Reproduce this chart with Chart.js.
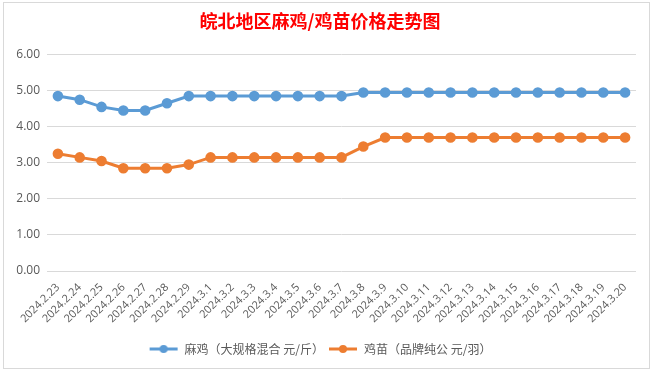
<!DOCTYPE html>
<html>
<head>
<meta charset="utf-8">
<script src="https://cdn.jsdelivr.net/npm/chart.js@4/dist/chart.umd.min.js"></script>
<style>
    html, body { margin: 0; padding: 0; background: #fff; }
    .frame {
        position: absolute; left: 3px; top: 2px;
        width: 645px; height: 365px;
        border: 1px solid #d9d9d9;
    }
    canvas { display: block; }
</style>
</head>
<body>
<div class="frame"><canvas id="priceChart" width="645" height="365"></canvas></div>
<script>
const dates = [
    '2024.2.23', '2024.2.24', '2024.2.25', '2024.2.26', '2024.2.27', '2024.2.28', '2024.2.29',
    '2024.3.1', '2024.3.2', '2024.3.3', '2024.3.4', '2024.3.5', '2024.3.6', '2024.3.7',
    '2024.3.8', '2024.3.9', '2024.3.10', '2024.3.11', '2024.3.12', '2024.3.13', '2024.3.14',
    '2024.3.15', '2024.3.16', '2024.3.17', '2024.3.18', '2024.3.19', '2024.3.20'
];
const maji = [
    4.85, 4.75, 4.55, 4.45, 4.45, 4.65, 4.85,
    4.85, 4.85, 4.85, 4.85, 4.85, 4.85, 4.85,
    4.95, 4.95, 4.95, 4.95, 4.95, 4.95, 4.95,
    4.95, 4.95, 4.95, 4.95, 4.95, 4.95
];
const jimiao = [
    3.25, 3.15, 3.05, 2.85, 2.85, 2.85, 2.95,
    3.15, 3.15, 3.15, 3.15, 3.15, 3.15, 3.15,
    3.45, 3.70, 3.70, 3.70, 3.70, 3.70, 3.70,
    3.70, 3.70, 3.70, 3.70, 3.70, 3.70
];
const seriesNames = ['麻鸡（大规格混合 元/斤）', '鸡苗（品牌纯公 元/羽）'];
const yTicks = [0, 1, 2, 3, 4, 5, 6];

const BLUE = '#5b9bd5';
const ORANGE = '#ed7d31';

// legend marker: short line with a dot in the middle
function legendMarker(color) {
    const c = document.createElement('canvas');
    c.width = 30; c.height = 10;
    const g = c.getContext('2d');
    g.strokeStyle = color;
    g.lineWidth = 3;
    g.beginPath(); g.moveTo(1, 5); g.lineTo(29, 5); g.stroke();
    g.fillStyle = color;
    g.beginPath(); g.arc(15, 5, 4, 0, Math.PI * 2); g.fill();
    return c;
}

const canvas = document.getElementById('priceChart');
new Chart(canvas.getContext('2d'), {
    type: 'line',
    data: {
        labels: dates,
        datasets: [
            {
                label: seriesNames[0], data: maji,
                borderColor: BLUE, backgroundColor: BLUE,
                borderWidth: 3, pointRadius: 3.8, pointHoverRadius: 4,
                marker: legendMarker(BLUE)
            },
            {
                label: seriesNames[1], data: jimiao,
                borderColor: ORANGE, backgroundColor: ORANGE,
                borderWidth: 3, pointRadius: 3.8, pointHoverRadius: 4,
                marker: legendMarker(ORANGE)
            }
        ]
    },
    options: {
        responsive: false,
        animation: false,
        layout: { padding: { left: 0, right: 13, top: 0, bottom: 3 } },
        plugins: {
            title: {
                display: true,
                text: '皖北地区麻鸡/鸡苗价格走势图',
                color: '#ff0000',
                font: { family: '"Noto Sans CJK SC"', size: 18, weight: 'bold' },
                padding: { top: 7, bottom: 23 }
            },
            legend: {
                position: 'bottom',
                labels: {
                    color: '#595959',
                    font: { family: '"Noto Sans CJK SC"', size: 12 },
                    usePointStyle: true,
                    pointStyleWidth: 30,
                    padding: 4,
                    generateLabels(chart) {
                        return chart.data.datasets.map((ds, i) => ({
                            text: ds.label,
                            fontColor: '#595959',
                            pointStyle: ds.marker,
                            strokeStyle: ds.borderColor,
                            fillStyle: ds.borderColor,
                            lineWidth: 0,
                            hidden: !chart.isDatasetVisible(i),
                            datasetIndex: i
                        }));
                    }
                }
            },
            tooltip: { enabled: false }
        },
        scales: {
            x: {
                offset: true,
                grid: { display: false },
                border: { display: false },
                ticks: {
                    color: '#595959',
                    font: { family: '"Open Sans"', size: 11 },
                    minRotation: 45, maxRotation: 45,
                    autoSkip: false,
                    padding: 2
                },
                afterFit(scale) { scale.height = 68; }
            },
            y: {
                min: 0, max: 6,
                afterBuildTicks(scale) {
                    scale.ticks = yTicks.map(v => ({ value: v }));
                },
                grid: { color: '#d9d9d9', drawTicks: false },
                border: { display: false },
                ticks: {
                    color: '#595959',
                    font: { family: '"Open Sans"', size: 12 },
                    padding: 7,
                    callback: v => v.toFixed(2)
                },
                afterFit(scale) { scale.width = 43; }
            }
        }
    }
});
</script>
</body>
</html>
